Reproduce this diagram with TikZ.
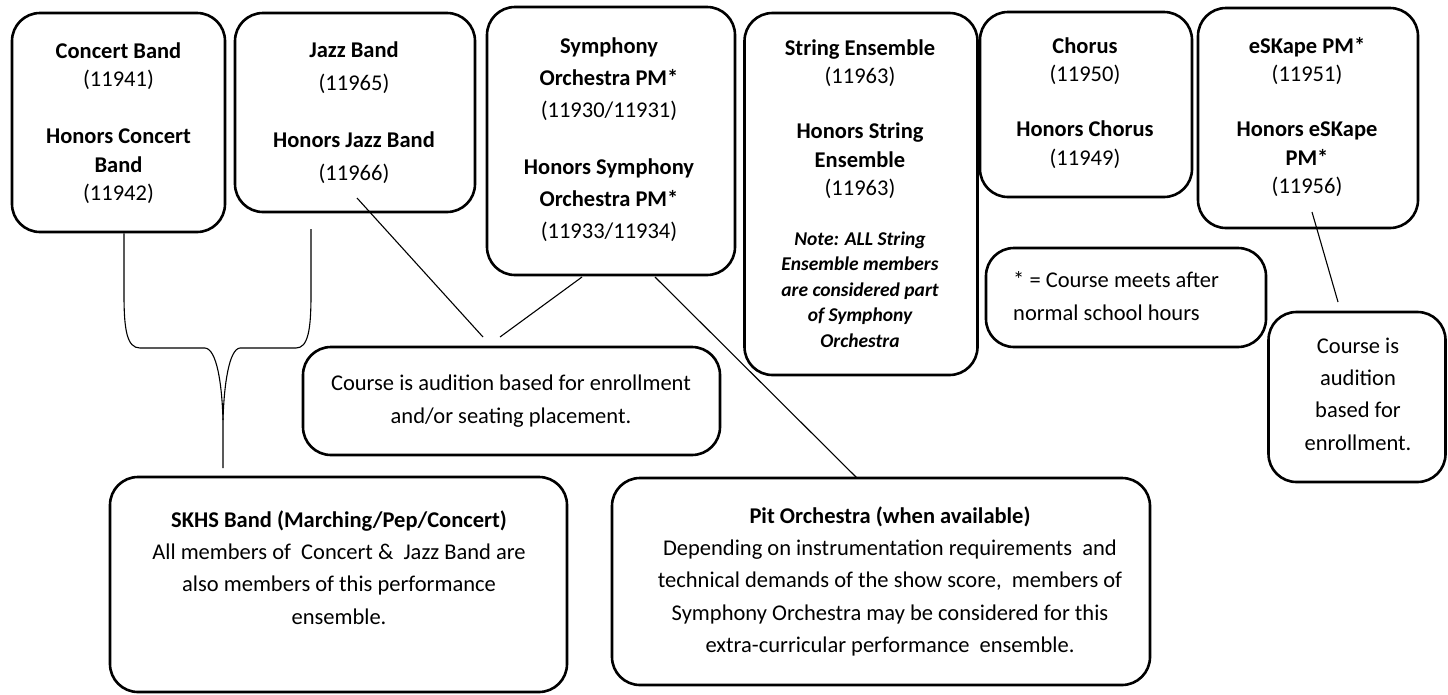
\documentclass[tikz,border=0pt]{standalone}
\usepackage{fontspec}
\setmainfont{Carlito}
\begin{document}
\begin{tikzpicture}[x=1pt,y=-1pt,
  box/.style={draw, line width=2.6pt, rounded corners=28pt, inner sep=0pt},
  ln/.style={line width=1.1pt},
  txt/.style={inner sep=0pt, align=center, anchor=north, font=\fontsize{22.5}{28.5}\selectfont},
  wide/.style={font=\fontsize{22.5}{32.3}\selectfont}]
\newcommand\fl{\rule{0pt}{18pt}}
\useasboundingbox[fill=white] (0,0) rectangle (1448,694);
% boxes
\node[box, minimum width=213, minimum height=219] (cb) at (118.5,122.5) {};
\node[box, minimum width=240, minimum height=199] (jb) at (355,112.5) {};
\node[box, minimum width=248, minimum height=268] (sy) at (611,141) {};
\node[box, minimum width=233, minimum height=362] (se) at (861,194) {};
\node[box, minimum width=212, minimum height=185] (ch) at (1086,104.5) {};
\node[box, minimum width=220, minimum height=220] (ek) at (1308,118) {};
\node[box, minimum width=280, minimum height=99] (nt) at (1126,297.5) {};
\node[box, minimum width=177, minimum height=170] (ra) at (1357,397) {};
\node[box, minimum width=417, minimum height=108] (ma) at (511.5,401) {};
\node[box, minimum width=457, minimum height=215] (sk) at (338.5,584.5) {};
\node[box, minimum width=538, minimum height=207] (pt) at (881,581.5) {};
% texts
\node[txt] (cbt) at (118.5,40) {\fl\textbf{Concert Band}\\(11941)\\[28.5pt]\textbf{Honors Concert}\\\textbf{Band}\\(11942)};
\node[txt, font=\fontsize{22.5}{33}\selectfont] (jbt) at (354,39) {\fl\textbf{Jazz Band}\\(11965)\\[24pt]\textbf{Honors Jazz Band}\\(11966)};
\node[txt, font=\fontsize{22.5}{32}\selectfont] (syt) at (609,35) {\fl\textbf{Symphony}\\\textbf{Orchestra PM*}\\(11930/11931)\\[25pt]\textbf{Honors Symphony}\\\textbf{Orchestra PM*}\\(11933/11934)};
\node[txt] (set) at (860,37) {\fl\textbf{String Ensemble}\\(11963)\\[26.5pt]\textbf{Honors String}\\\textbf{Ensemble}\\(11963)};
\node[txt, font=\fontsize{19.5}{25.5}\selectfont\bfseries\itshape] (sen) at (860,227) {\fl Note: ALL String\\Ensemble members\\are considered part\\of Symphony\\Orchestra};
\node[txt] (cht) at (1085,35) {\fl\textbf{Chorus}\\(11950)\\[26.5pt]\textbf{Honors Chorus}\\(11949)};
\node[txt] (ekt) at (1307,35) {\fl\textbf{eSKape PM*}\\(11951)\\[26.5pt]\textbf{Honors eSKape}\\\textbf{PM*}\\(11956)};
\node[txt, align=left, anchor=north west, font=\fontsize{22.5}{33}\selectfont] (ntt) at (1013,269) {\fl * = Course meets after\\normal school hours};
\node[txt, wide] (rat) at (1358,335) {\fl Course is\\audition\\based for\\enrollment.};
\node[txt, font=\fontsize{22.5}{33}\selectfont] (mat) at (511,372) {\fl Course is audition based for enrollment\\and/or seating placement.};
\node[txt, wide] (skt) at (339,509) {\fl\textbf{SKHS Band (Marching/Pep/Concert)}\\All members of \ Concert \& \ Jazz Band are\\also members of this performance\\ensemble.};
\node[txt, wide] (ptt) at (890,505) {\fl\textbf{Pit Orchestra (when available)}\\Depending on instrumentation requirements \ and\\technical demands of the show score, \ members of\\Symphony Orchestra may be considered for this\\extra-curricular performance \ ensemble.};
% free ends
\coordinate (bl) at (cb.south -| 124,0);
\coordinate (br) at (311,229);
\coordinate (bm) at (223,420);
\coordinate (bs) at (223,468);
\coordinate (jf) at (357,198);
\coordinate (je) at (483,337);
\coordinate (s1) at (582,277);
\coordinate (s2) at (500,337);
\coordinate (s3) at (655,277);
\coordinate (p1) at (857,478);
\coordinate (e1) at (1312,212);
\coordinate (e2) at (1338,302);
% brace
\draw[ln] (bl) -- (124,295) .. controls (124,330) and (127,348) .. (140,348)
  -- (205,348) .. controls (217,349) and (222,385) .. (bm) -- (bs);
\draw[ln] (br) -- (311,295) .. controls (311,330) and (308,348) .. (296,348)
  -- (240,348) .. controls (229,349) and (224,385) .. (bm);
% connectors
\draw[ln] (jf) -- (je);
\draw[ln] (s1) -- (s2);
\draw[ln] (s3) -- (p1);
\draw[ln] (e1) -- (e2);
\end{tikzpicture}
\end{document}
